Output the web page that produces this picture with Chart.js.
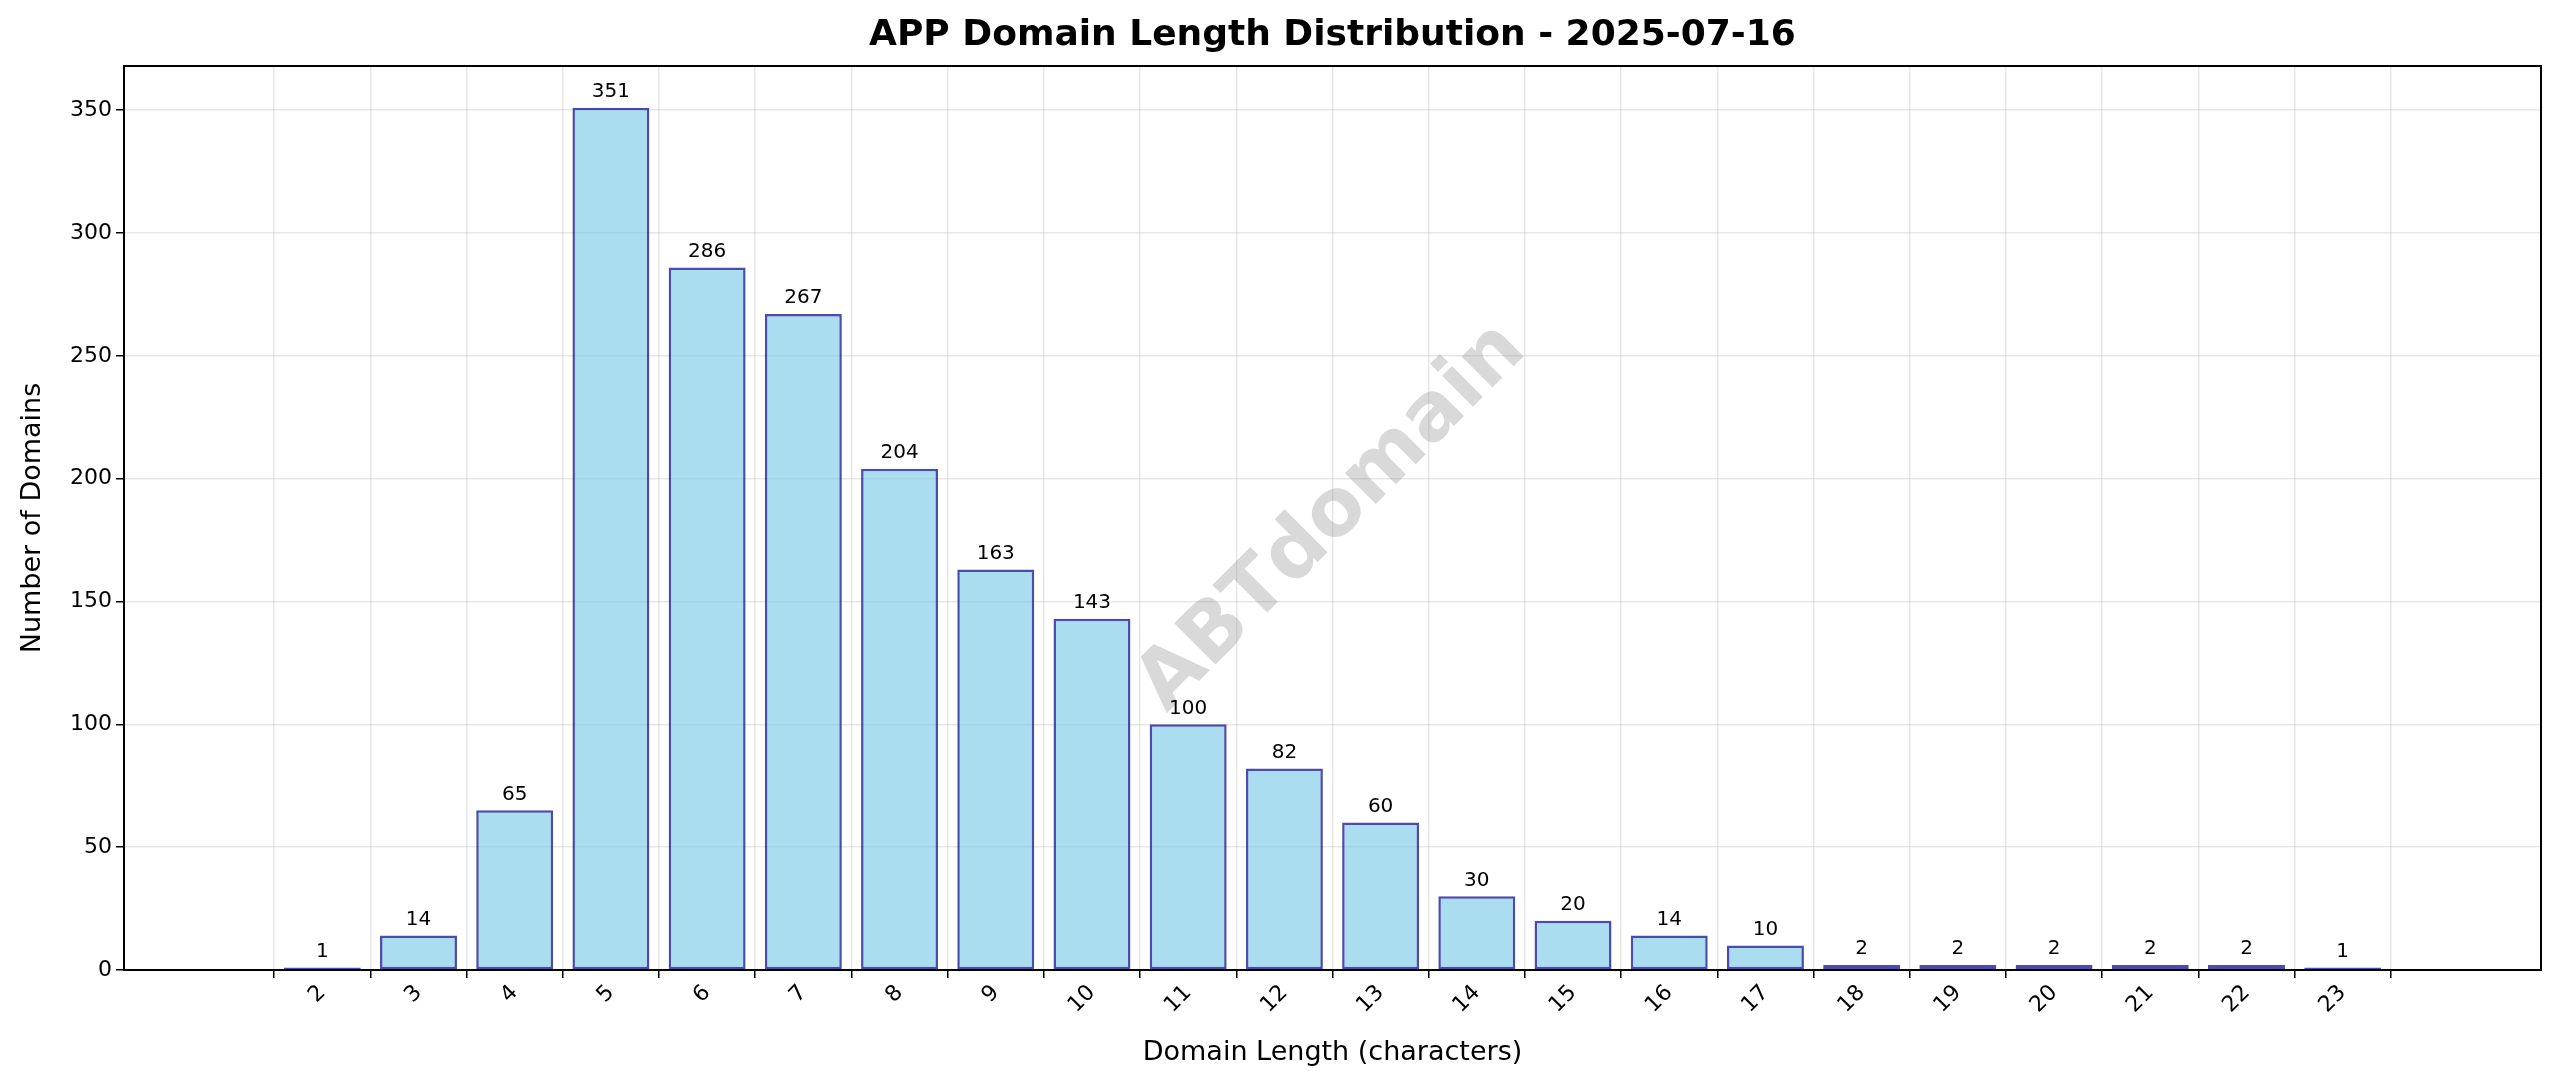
<!DOCTYPE html>
<html>
<head>
<meta charset="utf-8">
<script src="https://cdn.jsdelivr.net/npm/chart.js@4.4.1/dist/chart.umd.min.js"></script>
<style>
  html, body { margin: 0; padding: 0; background: #fff; }
  #wrap { width: 2560px; height: 1087px; }
</style>
</head>
<body>
<div id="wrap"><canvas id="myChart" width="2560" height="1087"></canvas></div>
<script>
// domain lengths and counts
const lengths = [2, 3, 4, 5, 6, 7, 8, 9, 10, 11, 12, 13, 14, 15, 16, 17, 18, 19, 20, 21, 22, 23];
const counts = [1, 14, 65, 351, 286, 267, 204, 163, 143, 100, 82, 60, 30, 20, 14, 10, 2, 2, 2, 2, 2, 1];
const yTicks = [0, 50, 100, 150, 200, 250, 300, 350];

const FONT = "'DejaVu Sans', sans-serif";

// plot box, labels, watermark
const extras = {
    id: 'extras',
    beforeDatasetsDraw(chart) {
        const { ctx, chartArea: a } = chart;
        ctx.save();
        ctx.translate((a.left + a.right) / 2, (a.top + a.bottom) / 2);
        ctx.rotate(-Math.PI / 4);
        ctx.fillStyle = 'rgba(128,128,128,0.3)';
        ctx.font = 'bold 80px ' + FONT;
        ctx.textAlign = 'center';
        ctx.textBaseline = 'middle';
        ctx.fillText('ABTdomain', 0, 0);
        ctx.restore();
    },
    afterDraw(chart) {
        const { ctx, chartArea: a } = chart;
        const x = chart.scales.x, y = chart.scales.y;
        ctx.save();
        ctx.strokeStyle = '#000';
        ctx.lineWidth = 2;
        ctx.strokeRect(a.left, a.top, a.right - a.left, a.bottom - a.top);

        // value labels
        ctx.fillStyle = '#000';
        ctx.font = '20px ' + FONT;
        ctx.textAlign = 'center';
        ctx.textBaseline = 'bottom';
        lengths.forEach((l, i) => {
            ctx.fillText(String(counts[i]), x.getPixelForValue(l), y.getPixelForValue(counts[i]) - 6);
        });

        // titles
        ctx.font = 'bold 36px ' + FONT;
        ctx.textBaseline = 'middle';
        ctx.fillText('APP Domain Length Distribution - 2025-07-16', (a.left + a.right) / 2, 36);
        ctx.font = '27px ' + FONT;
        ctx.fillText('Domain Length (characters)', (a.left + a.right) / 2, 1053);
        ctx.translate(33, (a.top + a.bottom) / 2);
        ctx.rotate(-Math.PI / 2);
        ctx.fillText('Number of Domains', 0, 0);
        ctx.restore();
    }
};

new Chart(document.getElementById('myChart'), {
    type: 'bar',
    data: {
        datasets: [{
            data: lengths.map((l, i) => ({ x: l, y: counts[i] })),
            backgroundColor: 'rgba(135,206,235,0.7)',
            borderColor: 'rgba(0,0,139,0.7)',
            borderWidth: 2.5,
            borderSkipped: false,
            barPercentage: 1,
            categoryPercentage: 0.8,
        }],
    },
    options: {
        responsive: false,
        animation: false,
        devicePixelRatio: 1,
        layout: { padding: { top: 66, right: 19, left: 0, bottom: 0 } },
        plugins: { legend: { display: false }, tooltip: { enabled: false } },
        scales: {
            x: {
                type: 'linear',
                min: 0.51,
                max: 24.49,
                afterBuildTicks: (s) => { s.ticks = lengths.map(v => ({ value: v })); },
                afterFit: (s) => { s.height = 117; },
                grid: { color: 'rgba(176,176,176,0.3)', lineWidth: 1.5, tickColor: '#000', tickLength: 8, drawOnChartArea: true },
                border: { display: false },
                ticks: { color: '#000', font: { family: FONT, size: 22 }, minRotation: 45, maxRotation: 45, padding: 2 },
            },
            y: {
                min: 0,
                max: 368,
                afterBuildTicks: (s) => { s.ticks = yTicks.map(v => ({ value: v })); },
                afterFit: (s) => { s.width = 124; },
                grid: { color: 'rgba(176,176,176,0.3)', lineWidth: 1.5, tickColor: '#000', tickLength: 8 },
                border: { display: false },
                ticks: { color: '#000', font: { family: FONT, size: 22 }, padding: 4 },
            },
        },
    },
    plugins: [extras],
});
</script>
</body>
</html>
